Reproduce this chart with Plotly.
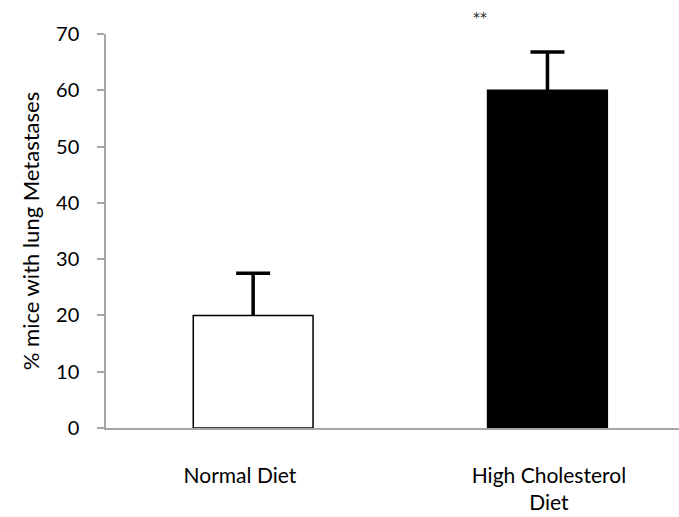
import plotly.graph_objects as go

categories = ["Normal Diet", "High Cholesterol Diet"]
tick_text = ["Normal Diet", "High Cholesterol<br>Diet"]
values = [20, 60]
errors_up = [7.5, 6.8]
bar_colors = ["white", "black"]
y_ticks = [0, 10, 20, 30, 40, 50, 60, 70]

fig = go.Figure()
# error bars (drawn first, beneath the visible bars so the lower cap is hidden)
fig.add_trace(go.Bar(
    x=[0, 1], y=values, width=0.407,
    marker=dict(color="rgba(0,0,0,0)", line=dict(width=0)),
    error_y=dict(type="data", symmetric=False, array=errors_up,
                 arrayminus=[1, 1], color="black", thickness=3.5, width=17),
    hoverinfo="skip",
))
fig.add_trace(go.Bar(
    x=[0, 1], y=values, width=0.407,
    marker=dict(color=bar_colors, line=dict(color="black", width=1.5)),
))
fig.add_annotation(x=0.652, y=1.068, xref="paper", yref="paper", text="**",
                   showarrow=False,
                   font=dict(size=14, color="#222222", family="DejaVu Sans"))

font_family = "Lato"
fig.update_layout(
    width=679, height=517,
    margin=dict(l=106, r=0, t=34, b=89),
    plot_bgcolor="white", paper_bgcolor="white",
    showlegend=False, barmode="overlay",
    font=dict(family=font_family, color="black"),
    xaxis=dict(range=[-0.5, 1.447], tickvals=[-0.045, 1.005], ticktext=tick_text,
               showline=True, linecolor="#a6a6a6", linewidth=1.5,
               showgrid=False, zeroline=False, ticks="",
               tickfont=dict(size=21), ticklabelstandoff=28),
    yaxis=dict(range=[0, 70], tickvals=y_ticks, showline=True,
               linecolor="#a6a6a6", linewidth=1.5, showgrid=False,
               zeroline=False, ticks="outside", ticklen=7,
               tickcolor="#a6a6a6", tickwidth=1.5,
               tickfont=dict(size=20), ticklabelstandoff=14,
               title=dict(text="% mice with lung Metastases",
                          font=dict(size=22), standoff=10)),
)
fig.write_html("out.html", config={"displayModeBar": False},
               post_script="document.body.style.margin='0';document.body.style.overflow='hidden';")
